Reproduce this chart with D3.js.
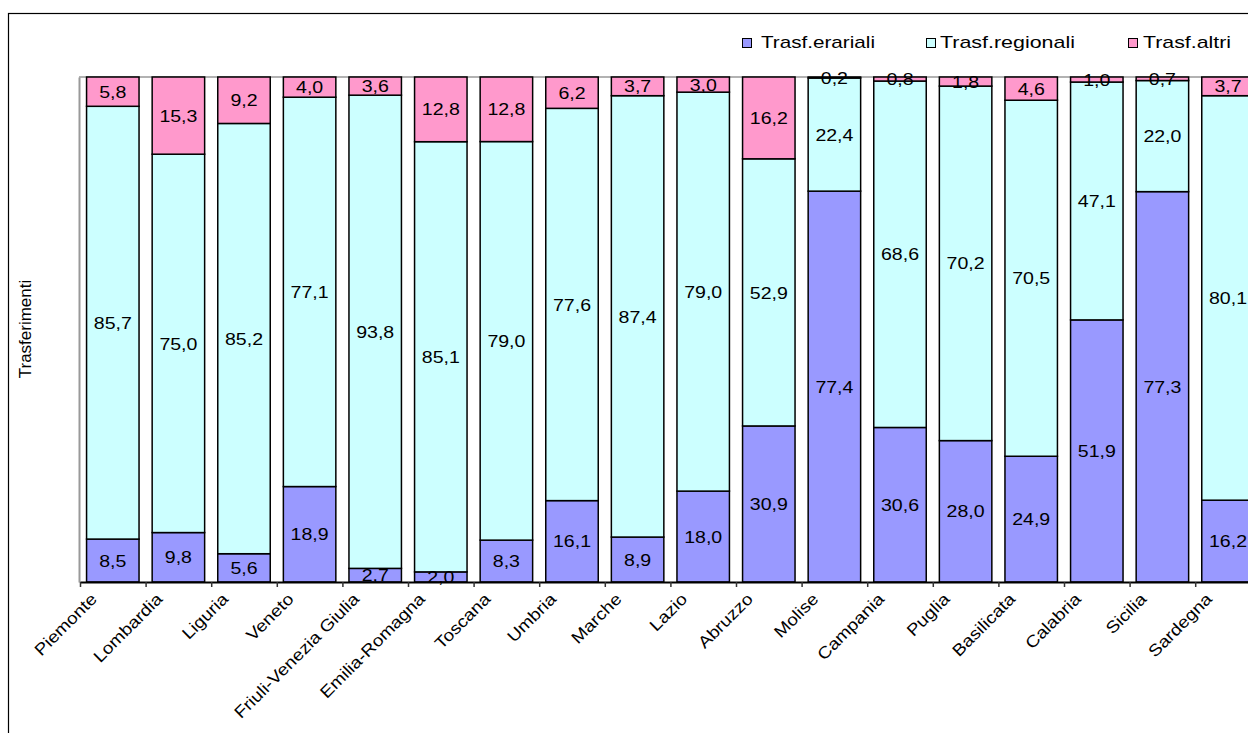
<!DOCTYPE html>
<html>
<head>
<meta charset="utf-8">
<script src="https://cdn.jsdelivr.net/npm/d3@7"></script>
<style>
  body { margin: 0; background: #fff; }
  svg { display: block; font-family: "Liberation Sans", Arial, sans-serif; }
</style>
</head>
<body>
<svg width="1248" height="733"></svg>
<script>
// dati
const regioni = ["Piemonte", "Lombardia", "Liguria", "Veneto", "Friuli-Venezia Giulia", "Emilia-Romagna",
  "Toscana", "Umbria", "Marche", "Lazio", "Abruzzo", "Molise", "Campania", "Puglia", "Basilicata",
  "Calabria", "Sicilia", "Sardegna"];
const erariali  = [8.5, 9.8, 5.6, 18.9, 2.7, 2.0, 8.3, 16.1, 8.9, 18.0, 30.9, 77.4, 30.6, 28.0, 24.9, 51.9, 77.3, 16.2];
const regionali = [85.7, 75.0, 85.2, 77.1, 93.8, 85.1, 79.0, 77.6, 87.4, 79.0, 52.9, 22.4, 68.6, 70.2, 70.5, 47.1, 22.0, 80.1];
const altri     = [5.8, 15.3, 9.2, 4.0, 3.6, 12.8, 12.8, 6.2, 3.7, 3.0, 16.2, 0.2, 0.8, 1.8, 4.6, 1.0, 0.7, 3.7];
const serie = ["Trasf.erariali", "Trasf.regionali", "Trasf.altri"];
const colori = ["#9999ff", "#ccffff", "#ff99cc"];

const svg = d3.select("svg");
const plotLeft = 80, plotTop = 77, plotBottom = 582;
const step = 65.6;
const plotRight = plotLeft + step * regioni.length;

// outer frame
svg.append("rect")
  .attr("x", 8.5).attr("y", 13.5)
  .attr("width", 1300).attr("height", 800)
  .attr("fill", "none").attr("stroke", "#000").attr("stroke-width", 1.2);

const rows = regioni.map((r, i) => ({
  regione: r,
  "Trasf.erariali": erariali[i],
  "Trasf.regionali": regionali[i],
  "Trasf.altri": altri[i]
}));

const stacked = d3.stack().keys(serie).offset(d3.stackOffsetExpand)(rows);

const x = d3.scaleBand()
  .domain(regioni)
  .range([plotLeft, plotRight])
  .paddingInner(0.2)
  .paddingOuter(0.1);

const y = d3.scaleLinear().domain([0, 1]).range([plotBottom, plotTop]);

// plot area border (top / left)
svg.append("line")
  .attr("x1", plotLeft - 1).attr("x2", 1248).attr("y1", plotTop).attr("y2", plotTop)
  .attr("stroke", "#999").attr("stroke-width", 1.5);

const yAxis = d3.axisLeft(y).tickValues([0]).tickFormat("").tickSizeOuter(0).tickSizeInner(0);
svg.append("g")
  .attr("transform", `translate(${plotLeft - 1},0)`)
  .call(yAxis)
  .call(g => g.select(".domain").attr("stroke", "#999").attr("stroke-width", 2));

const fmt = v => v.toFixed(1).replace(".", ",");

const groups = svg.selectAll("g.serie")
  .data(stacked)
  .enter()
  .append("g")
  .attr("class", "serie")
  .attr("fill", (d, i) => colori[i]);

groups.selectAll("rect")
  .data(d => d)
  .enter()
  .append("rect")
  .attr("x", d => x(d.data.regione))
  .attr("y", d => y(d[1]))
  .attr("width", x.bandwidth())
  .attr("height", d => y(d[0]) - y(d[1]))
  .attr("stroke", "#000")
  .attr("stroke-width", 1.5);

// etichette valori
stacked.forEach(s => {
  svg.append("g")
    .selectAll("text")
    .data(s)
    .enter()
    .append("text")
    .attr("transform", d => `translate(${x(d.data.regione) + x.bandwidth() / 2},${(y(d[0]) + y(d[1])) / 2}) scale(1.15,1)`)
    .attr("text-anchor", "middle")
    .attr("dy", "0.36em")
    .attr("font-size", 17)
    .attr("fill", "#000")
    .text(d => fmt(d.data[s.key]));
});

// asse x
const xTicks = d3.scaleLinear().domain([0, regioni.length]).range([plotLeft, plotRight]);
const xAxis = d3.axisBottom(xTicks)
  .tickValues(d3.range(regioni.length + 1))
  .tickFormat("")
  .tickSizeOuter(0)
  .tickSizeInner(5);

svg.append("g")
  .attr("transform", `translate(0,${plotBottom})`)
  .call(xAxis)
  .call(g => g.select(".domain").attr("stroke", "#000").attr("stroke-width", 2))
  .call(g => g.selectAll(".tick line").attr("stroke", "#333").attr("stroke-width", 1.5));

svg.append("g")
  .selectAll("text")
  .data(regioni)
  .enter()
  .append("text")
  .attr("transform", d => `translate(${x(d) + x.bandwidth() / 2 - 19},596) rotate(-45) scale(1.15,1)`)
  .attr("text-anchor", "end")
  .attr("dy", "0.35em")
  .attr("font-size", 16.5)
  .attr("fill", "#000")
  .text(d => d);

// titolo asse y
svg.append("text")
  .attr("transform", "translate(30.5,329) rotate(-90)")
  .attr("text-anchor", "middle")
  .attr("font-size", 17)
  .text("Trasferimenti");

// legenda
const legPos = [
  { sx: 742, tx: 761, w: 114 },
  { sx: 926, tx: 940, w: 135 },
  { sx: 1128, tx: 1143, w: 88 }
];
const leg = svg.append("g")
  .selectAll("g")
  .data(serie)
  .enter()
  .append("g");

leg.append("rect")
  .attr("x", (d, i) => legPos[i].sx + 0.5)
  .attr("y", 38.5)
  .attr("width", 9)
  .attr("height", 9)
  .attr("fill", (d, i) => colori[i])
  .attr("stroke", "#000")
  .attr("stroke-width", 1);

leg.append("text")
  .attr("x", (d, i) => legPos[i].tx)
  .attr("y", 47.5)
  .attr("font-size", 17)
  .attr("textLength", (d, i) => legPos[i].w)
  .attr("lengthAdjust", "spacingAndGlyphs")
  .text(d => d);
</script>
</body>
</html>
